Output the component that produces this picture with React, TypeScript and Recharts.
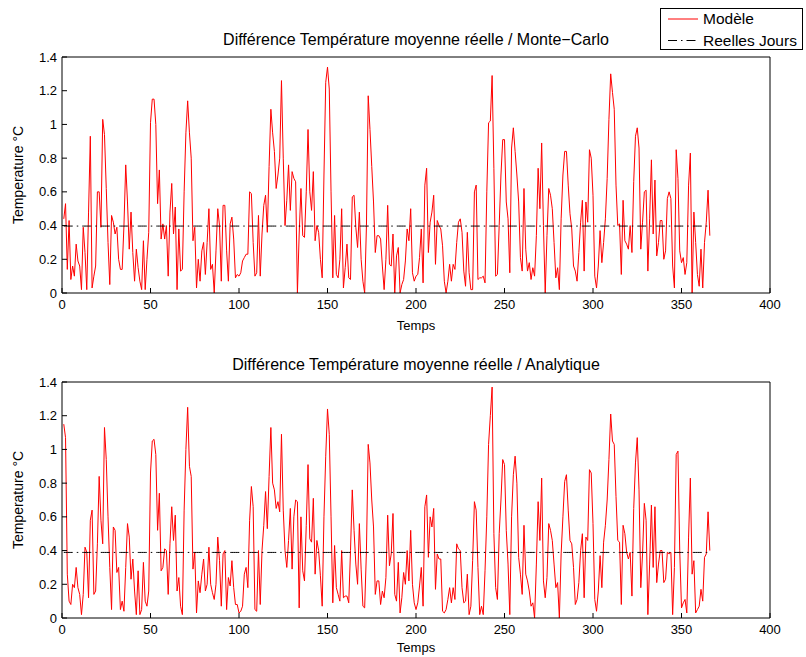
import React from 'react';
import { LineChart, Line, XAxis, YAxis, Legend, Label } from 'recharts';

// Day-by-day temperature differences (°C), days 1..366
const monteCarloDiff = [
  0.44,0.53,0.14,0.43,0.08,0.16,0.10,0.29,0.19,0.16,
  0.02,0.39,0.24,0.02,0.48,0.93,0.03,0.10,0.16,0.60,
  0.60,0.39,1.03,0.94,0.62,0.30,0.05,0.46,0.42,0.35,
  0.39,0.20,0.14,0.14,0.40,0.76,0.54,0.26,0.48,0.24,
  0.07,0.26,0.15,0.07,0.02,0.31,0.02,0.20,0.36,1.01,
  1.15,1.15,1.00,0.53,0.73,0.32,0.41,0.32,0.40,0.10,
  0.48,0.65,0.35,0.51,0.02,0.38,0.13,0.14,0.60,0.95,
  1.14,0.95,0.80,0.31,0.39,0.03,0.20,0.07,0.25,0.30,
  0.11,0.30,0.50,0.14,0.17,0.00,0.25,0.50,0.40,0.07,
  0.52,0.52,0.25,0.07,0.41,0.45,0.32,0.09,0.11,0.10,
  0.12,0.19,0.21,0.23,0.23,0.60,0.59,0.30,0.10,0.12,
  0.46,0.10,0.35,0.52,0.58,0.36,0.75,1.09,0.95,0.84,
  0.62,0.70,0.80,1.26,0.80,0.40,0.55,0.76,0.49,0.72,
  0.68,0.66,0.00,0.35,0.62,0.34,0.33,0.60,0.97,0.60,
  0.49,0.72,0.31,0.40,0.36,0.20,0.09,0.70,1.25,1.34,
  1.21,0.60,0.09,0.46,0.11,0.09,0.20,0.50,0.03,0.15,
  0.29,0.09,0.08,0.57,0.58,0.39,0.27,0.48,0.20,0.07,
  0.00,0.40,1.17,0.97,0.75,0.54,0.24,0.34,0.34,0.32,
  0.16,0.02,0.20,0.52,0.17,0.16,0.35,0.00,0.22,0.27,
  0.00,0.05,0.08,0.19,0.38,0.31,0.50,0.12,0.07,0.10,
  0.11,0.21,0.38,0.06,0.64,0.74,0.24,0.42,0.48,0.58,
  0.17,0.43,0.40,0.38,0.28,0.07,0.00,0.07,0.17,0.07,
  0.17,0.14,0.30,0.42,0.44,0.36,0.13,0.04,0.36,0.12,
  0.02,0.02,0.60,0.64,0.08,0.09,0.09,0.10,0.06,0.60,
  1.01,1.02,1.29,0.74,0.10,0.11,0.40,0.70,0.91,0.91,
  0.54,0.44,0.12,0.86,0.98,0.84,0.70,0.54,0.21,0.13,
  0.62,0.26,0.13,0.18,0.08,0.15,0.10,0.34,0.74,0.50,
  0.89,0.40,0.00,0.34,0.62,0.58,0.50,0.30,0.09,0.15,
  0.02,0.44,0.70,0.84,0.84,0.64,0.47,0.38,0.16,0.13,
  0.07,0.24,0.42,0.55,0.13,0.54,0.42,0.85,0.80,0.58,
  0.10,0.03,0.16,0.37,0.18,0.30,0.44,0.68,1.03,1.30,
  1.19,1.09,0.64,0.40,0.41,0.11,0.55,0.31,0.29,0.26,
  0.40,0.24,0.66,0.93,0.98,0.86,0.26,0.42,0.60,0.61,
  0.13,0.44,0.79,0.35,0.67,0.22,0.30,0.43,0.43,0.20,
  0.25,0.56,0.60,0.56,0.16,0.03,0.85,0.68,0.25,0.18,
  0.21,0.11,0.18,0.64,0.83,0.00,0.48,0.30,0.11,0.04,
  0.26,0.03,0.30,0.42,0.61,0.34,
];

const analyticDiff = [
  1.15,1.07,0.26,0.10,0.08,0.20,0.18,0.30,0.18,0.14,
  0.02,0.14,0.42,0.39,0.12,0.58,0.64,0.14,0.16,0.44,
  0.84,0.58,0.44,1.13,0.94,0.60,0.30,0.05,0.54,0.52,
  0.27,0.30,0.05,0.10,0.04,0.30,0.56,0.48,0.23,0.35,
  0.16,0.02,0.28,0.02,0.05,0.33,0.10,0.07,0.16,0.86,
  1.05,1.06,0.97,0.52,0.74,0.28,0.30,0.41,0.40,0.14,
  0.44,0.66,0.46,0.61,0.16,0.24,0.07,0.02,0.64,1.00,
  1.25,0.90,0.84,0.29,0.39,0.03,0.22,0.15,0.26,0.35,
  0.16,0.20,0.42,0.20,0.15,0.11,0.20,0.48,0.34,0.07,
  0.38,0.40,0.05,0.24,0.19,0.34,0.18,0.08,0.08,0.03,
  0.04,0.07,0.26,0.30,0.18,0.58,0.78,0.66,0.05,0.04,
  0.40,0.08,0.40,0.55,0.75,0.53,0.84,1.13,0.80,0.76,
  0.65,0.69,0.63,1.09,0.64,0.40,0.30,0.46,0.65,0.29,
  0.60,0.70,0.69,0.06,0.60,0.28,0.22,0.55,0.91,0.47,
  0.45,0.71,0.26,0.46,0.40,0.25,0.07,0.60,0.96,1.24,
  1.09,0.60,0.09,0.43,0.18,0.14,0.10,0.40,0.12,0.13,
  0.13,0.09,0.40,0.76,0.52,0.32,0.20,0.56,0.29,0.07,
  0.06,0.40,1.03,0.92,0.70,0.54,0.14,0.22,0.22,0.08,
  0.16,0.12,0.24,0.61,0.31,0.38,0.62,0.14,0.10,0.33,
  0.03,0.12,0.27,0.20,0.40,0.22,0.52,0.20,0.09,0.05,
  0.09,0.19,0.30,0.07,0.66,0.73,0.36,0.60,0.54,0.65,
  0.17,0.38,0.35,0.35,0.04,0.03,0.05,0.11,0.18,0.09,
  0.18,0.11,0.44,0.41,0.40,0.18,0.09,0.10,0.26,0.02,
  0.07,0.34,0.69,0.64,0.30,0.02,0.07,0.02,0.28,0.60,
  1.03,1.20,1.37,0.50,0.18,0.11,0.50,0.70,0.94,0.91,
  0.52,0.32,0.02,0.60,0.85,0.96,0.80,0.36,0.26,0.14,
  0.55,0.26,0.22,0.16,0.07,0.09,0.00,0.32,0.69,0.46,
  0.83,0.22,0.12,0.24,0.56,0.52,0.46,0.32,0.18,0.21,
  0.00,0.38,0.60,0.81,0.85,0.64,0.46,0.44,0.30,0.08,
  0.11,0.21,0.40,0.50,0.12,0.48,0.46,0.88,0.86,0.56,
  0.11,0.04,0.16,0.37,0.18,0.45,0.55,0.70,0.94,1.21,
  1.05,1.03,0.72,0.46,0.45,0.08,0.55,0.50,0.39,0.35,
  0.39,0.13,0.65,0.92,1.07,0.76,0.18,0.38,0.68,0.58,
  0.02,0.32,0.67,0.30,0.66,0.21,0.32,0.40,0.40,0.21,
  0.23,0.39,0.38,0.39,0.02,0.30,0.97,0.99,0.40,0.06,
  0.09,0.11,0.03,0.48,0.83,0.26,0.34,0.03,0.05,0.07,
  0.17,0.10,0.36,0.38,0.63,0.40,
];

const realDaysTop = 0.397;
const realDaysBottom = 0.389;

const xTicks = [0, 50, 100, 150, 200, 250, 300, 350, 400];
const yTicks = [0, 0.2, 0.4, 0.6, 0.8, 1, 1.2, 1.4];

const titleTop = 'Différence Température moyenne réelle / Monte−Carlo';
const titleBottom = 'Différence Température moyenne réelle / Analytique';
const xLabel = 'Temps';
const yLabel = 'Temperature °C';
const seriesModel = 'Modèle';
const seriesReal = 'Reelles Jours';

const FONT = '"Liberation Sans", Arial, Helvetica, sans-serif';
const DASH_DOT = '9 4 1.5 4';

function buildRows(values: number[], ref: number) {
  return values.map((v, i) => ({ day: i + 1, model: v, real: ref }));
}

function LegendBox() {
  return (
    <svg width={143} height={42} style={{ display: 'block' }}>
      <rect x={0.5} y={0.5} width={142} height={41} fill="#fff" stroke="#000" strokeWidth={1} />
      <line x1={8} x2={38} y1={11} y2={11} stroke="#ff0000" strokeWidth={1} />
      <text x={43} y={16} fontSize={15.5} fontFamily={FONT} fill="#000">{seriesModel}</text>
      <line x1={8} x2={38} y1={32.5} y2={32.5} stroke="#000" strokeWidth={1} strokeDasharray={DASH_DOT} />
      <text x={43} y={37.5} fontSize={15.5} fontFamily={FONT} fill="#000">{seriesReal}</text>
    </svg>
  );
}

function YLabel(props: any) {
  const vb = props.viewBox || { x: 0, y: 0, width: 62, height: 236 };
  const cx = vb.x + 18;
  const cy = vb.y + vb.height / 2;
  return (
    <text
      x={cx}
      y={cy}
      transform={`rotate(-90 ${cx} ${cy})`}
      textAnchor="middle"
      dominantBaseline="central"
      fontSize={14}
      fontFamily={FONT}
      fill="#000"
    >
      {yLabel}
    </text>
  );
}

const tickStyle = { fill: '#000', fontSize: 13, fontFamily: FONT };

function Panel(props: {
  rows: { day: number; model: number; real: number }[];
  title: string;
  height: number;
  marginTop: number;
  marginBottom: number;
  xLabelOffset: number;
  legend?: boolean;
}) {
  const { rows, title, height, marginTop, marginBottom, xLabelOffset, legend } = props;
  return (
    <LineChart
      width={806}
      height={height}
      data={rows}
      margin={{ top: marginTop, right: 35, bottom: marginBottom, left: 0 }}
    >
      <XAxis
        xAxisId="b"
        dataKey="day"
        type="number"
        domain={[0, 400]}
        ticks={xTicks}
        interval={0}
        allowDataOverflow
        orientation="bottom"
        height={37}
        tickSize={-5}
        tickMargin={12}
        tick={tickStyle}
        tickLine={{ stroke: '#000' }}
        axisLine={{ stroke: '#000' }}
      >
        <Label
          value={xLabel}
          position="insideBottom"
          offset={xLabelOffset}
          style={{ fontSize: 13, fontFamily: FONT, fill: '#000' }}
        />
      </XAxis>
      <XAxis
        xAxisId="t"
        dataKey="day"
        type="number"
        domain={[0, 400]}
        ticks={xTicks}
        interval={0}
        allowDataOverflow
        orientation="top"
        height={1}
        tickSize={-5}
        tick={false}
        tickLine={{ stroke: '#000' }}
        axisLine={{ stroke: '#000' }}
      >
        <Label
          value={title}
          position="top"
          offset={11}
          style={{ fontSize: 16, fontFamily: FONT, fill: '#000' }}
        />
      </XAxis>
      <YAxis
        yAxisId="l"
        type="number"
        domain={[0, 1.4]}
        ticks={yTicks}
        interval={0}
        allowDataOverflow
        width={62}
        tickSize={-5}
        tickMargin={10}
        tick={tickStyle}
        tickLine={{ stroke: '#000' }}
        axisLine={{ stroke: '#000' }}
      >
        <Label content={<YLabel />} />
      </YAxis>
      <YAxis
        yAxisId="r"
        orientation="right"
        type="number"
        domain={[0, 1.4]}
        ticks={yTicks}
        interval={0}
        allowDataOverflow
        width={1}
        tickSize={-5}
        tick={false}
        tickLine={{ stroke: '#000' }}
        axisLine={{ stroke: '#000' }}
      />
      <Line
        xAxisId="b"
        yAxisId="l"
        type="linear"
        dataKey="model"
        name={seriesModel}
        stroke="#ff0000"
        strokeWidth={1}
        dot={false}
        activeDot={false}
        isAnimationActive={false}
      />
      <Line
        xAxisId="b"
        yAxisId="l"
        type="linear"
        dataKey="real"
        name={seriesReal}
        stroke="#000"
        strokeWidth={1}
        strokeDasharray={DASH_DOT}
        dot={false}
        activeDot={false}
        isAnimationActive={false}
      />
      {legend ? (
        <Legend
          layout="vertical"
          align="center"
          verticalAlign="middle"
          width={143}
          height={42}
          wrapperStyle={{ left: 660, top: 8, width: 143, height: 42 }}
          content={() => <LegendBox />}
        />
      ) : null}
    </LineChart>
  );
}

export default function App() {
  const topRows = buildRows(monteCarloDiff, realDaysTop);
  const bottomRows = buildRows(analyticDiff, realDaysBottom);
  return (
    <div style={{ position: 'absolute', left: 0, top: 0, width: 806, height: 657, background: '#fff', fontFamily: FONT }}>
      <div style={{ position: 'absolute', left: 0, top: 330 }}>
        <Panel rows={bottomRows} title={titleBottom} height={327} marginTop={51} marginBottom={2} xLabelOffset={3} />
      </div>
      <div style={{ position: 'absolute', left: 0, top: 0 }}>
        <Panel rows={topRows} title={titleTop} height={338} marginTop={56} marginBottom={8} xLabelOffset={0} legend />
      </div>
    </div>
  );
}
